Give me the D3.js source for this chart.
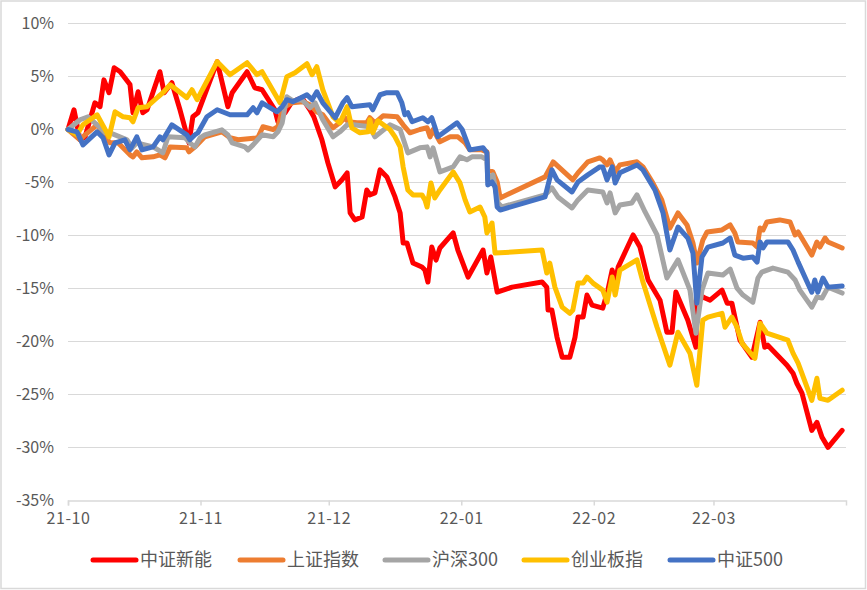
<!DOCTYPE html>
<html>
<head>
<meta charset="utf-8">
<script src="https://cdn.jsdelivr.net/npm/d3@7"></script>
<style>
  html, body { margin: 0; padding: 0; background: #fff; }
  svg { display: block; }
  text { font-family: "Noto Sans CJK SC", "Liberation Sans", sans-serif; fill: #595959; }
</style>
</head>
<body>
<svg id="chart" width="867" height="590"></svg>
<script>
// ---- data: [days since start, % change] ----
const startDate = "2021-10-01";
const endDate = "2022-04-01";
const seriesNames = ["中证新能", "上证指数", "沪深300", "创业板指", "中证500"];
const seriesColors = ["#FF0000", "#ED7D31", "#A5A5A5", "#FFC000", "#4472C4"];
const yTicks = [10, 5, 0, -5, -10, -15, -20, -25, -30, -35];
const monthTicks = ["2021-10-01", "2021-11-01", "2021-12-01", "2022-01-01", "2022-02-01", "2022-03-01"];

const csiNewEnergy = [[0,0],[1.4,1.86],[2.8,-0.97],[4,-0.69],[6.3,2.52],[7.5,2.15],[8.4,4.68],[9.6,3.47],[10.8,5.83],[12.2,5.45],[14.5,4.24],[15.2,1.58],[16.4,3.56],[17.5,1.58],[18.5,1.86],[21.5,5.45],[22.5,3.47],[24.3,4.41],[26.2,1.86],[28.3,-1.26],[29.2,1.2],[30.4,1.58],[34.9,6.4],[37.4,2.15],[38.4,3.47],[41.9,5.45],[43.7,3.94],[45.4,3.75],[48.4,1.86],[49.1,0.73],[49.8,1.2],[50.8,1.58],[52.4,2.62],[54.7,3.0],[56.6,1.86],[57.5,1.2],[59.4,-0.97],[60.8,-3.15],[62.5,-5.41],[64.1,-4.75],[65.3,-4.09],[66,-7.87],[67.1,-8.53],[68.8,-8.25],[69.9,-5.7],[70.6,-6.17],[71.8,-5.98],[73,-3.81],[74.6,-4.47],[76.5,-6.36],[77.7,-7.87],[78.4,-10.71],[79.3,-10.71],[80.7,-12.6],[82.8,-12.98],[83.5,-13.26],[84.2,-14.39],[85.1,-11.09],[86.1,-12.32],[87,-11.18],[90.1,-9.76],[91.2,-11.37],[93.6,-13.92],[97.1,-11.37],[98,-13.54],[98.9,-12.03],[100.4,-15.34],[103.9,-14.87],[110.9,-14.39],[112,-14.87],[112.3,-17.04],[113.2,-17.04],[114.4,-19.6],[115.6,-21.48],[117.4,-21.48],[118.6,-19.6],[119.3,-17.7],[120.5,-17.7],[121.4,-15.62],[122.6,-16.57],[125.1,-16.85],[126.3,-15.15],[127.3,-13.26],[128,-14.49],[128.7,-12.98],[132.2,-9.95],[133.8,-11.09],[135.7,-14.2],[138.5,-16.1],[140.1,-19.12],[141.3,-19.12],[142.2,-15.34],[145,-17.99],[146.9,-20.54],[147.1,-15.43],[149,-15.9],[150.2,-16.1],[153,-15.15],[154.2,-16.38],[155.3,-16.38],[156,-17.7],[157.2,-19.88],[160,-21.48],[161.9,-18.18],[163,-20.54],[163.7,-20.35],[168.2,-22.24],[169.6,-22.99],[170.5,-23.94],[171.7,-24.88],[174,-28.38],[175.2,-27.63],[176.4,-29.04],[177.8,-29.99],[181.1,-28.38]];

const sseComposite = [[0,0],[2.8,-0.97],[4,-0.5],[6.8,0.44],[9.8,-1.26],[11.7,-1.26],[14.5,-2.39],[15.2,-2.58],[16.1,-2.11],[17.3,-2.67],[19.9,-2.58],[21.5,-2.39],[22.7,-2.67],[23.9,-1.64],[27.8,-1.73],[28.3,-2.11],[29.7,-1.64],[32,-0.69],[36,-0.22],[37.9,-0.78],[39.8,-0.97],[44.4,-0.78],[45.6,0.26],[48,0],[49.1,0.26],[50.3,2.05],[52.4,2.52],[55,2.62],[56.6,2.33],[58.2,1.67],[59.6,1.39],[60.8,0.73],[62,0.16],[63.6,0.63],[64.8,1.11],[65.5,0.73],[67.6,0.63],[69.9,0.63],[70.6,1.11],[71.8,0.63],[73.7,1.29],[77,1.2],[78.4,0.44],[80,-0.31],[82.3,0],[84,0.16],[84.7,-0.69],[85.4,0],[87,-1.16],[89.4,-0.69],[91.2,-0.69],[92.9,-1.26],[94,-1.92],[96.8,-1.92],[98,-2.11],[98.2,-3.81],[99.4,-4.0],[100.4,-4.95],[101.1,-6.46],[111.6,-4.47],[113.5,-3.05],[116.3,-4.09],[118.1,-4.75],[119.3,-4.09],[121.6,-3.05],[124.4,-2.68],[125.1,-2.86],[126.1,-3.34],[126.8,-2.86],[128,-3.99],[129.1,-3.34],[133.1,-3.05],[134.5,-3.53],[136.8,-5.04],[138.9,-6.64],[140.8,-9.3],[142.7,-7.87],[144.8,-9.0],[146.2,-10.71],[147.1,-12.6],[148.5,-10.43],[149.5,-9.67],[153,-9.48],[154.9,-9.0],[156,-9.76],[156.7,-10.61],[160.2,-10.71],[161.2,-11.09],[161.9,-9.29],[162.6,-9.48],[163.5,-8.72],[166.5,-8.53],[168.9,-8.72],[170.1,-9.95],[170.8,-9.67],[172.9,-11.09],[174,-11.85],[175.2,-10.61],[175.9,-11.09],[177.1,-10.24],[177.8,-10.61],[181.1,-11.18]];

const csi300 = [[0,0],[2.8,0.92],[4.7,1.2],[6.8,0.44],[8.7,-0.31],[9.8,-0.31],[11,-0.5],[13.8,-0.97],[15,-1.73],[16.1,-1.26],[19.9,-1.64],[22.2,-2.2],[23.4,-0.69],[27.4,-0.78],[28.5,-1.26],[29.7,-1.64],[30.9,-0.78],[32,-0.5],[36,-0.03],[37.4,-0.5],[38.4,-1.26],[41.4,-1.64],[42.1,-1.92],[43.3,-1.45],[45.4,-0.5],[48,-0.69],[49.1,-0.22],[50.1,0.63],[51.2,3.09],[52.6,2.71],[54.7,2.81],[56.6,2.05],[57.8,2.52],[59.6,0.92],[62,-0.69],[63.6,-0.22],[65.3,0.44],[66.7,0.44],[70.6,0.26],[71.8,-0.69],[75.3,0.44],[77.7,0],[79.5,-2.2],[82.3,-1.73],[84,-1.64],[84.7,-2.58],[85.4,-1.73],[87,-4.0],[90.1,-3.53],[91.7,-2.58],[93.3,-2.86],[94.5,-2.58],[96.8,-2.58],[98,-2.86],[98.2,-4.75],[99.4,-4.28],[100.6,-6.93],[101.5,-7.31],[111.6,-6.17],[113.2,-5.51],[114.6,-6.36],[117.9,-7.4],[119.3,-6.64],[121.6,-5.7],[125.1,-5.89],[126.1,-6.93],[126.8,-5.98],[128,-7.87],[129.1,-7.12],[131.9,-6.93],[133.1,-6.17],[135,-7.78],[137.8,-9.95],[140.1,-14.01],[142.7,-12.3],[145.5,-15.15],[146.9,-19.22],[148.3,-15.15],[149.7,-13.54],[153.2,-13.73],[154.9,-13.17],[156.5,-14.96],[157.9,-15.62],[160.2,-16.29],[161.4,-14.01],[162.3,-13.45],[164.9,-13.07],[168.4,-13.45],[170.1,-14.2],[171.2,-15.15],[174,-16.76],[175.2,-15.81],[176.4,-15.9],[177.8,-14.87],[181.1,-15.43]];

const chiNext = [[0,0],[2.1,-0.5],[3.5,0.44],[6.8,1.39],[9.6,-0.69],[11,1.67],[12.9,1.2],[14.5,1.11],[15.2,0.73],[16.4,2.05],[18.5,2.15],[21.1,3.09],[22.2,3.47],[23.9,4.22],[27.8,3.0],[29,3.75],[30.2,2.81],[34.9,6.4],[37.9,5.17],[41.9,6.3],[44.2,5.17],[45.4,5.45],[49.6,2.52],[51.2,4.98],[53.1,5.36],[55.9,6.21],[57.1,5.17],[58.2,5.93],[59.6,3.75],[62,1.2],[63.6,0.63],[65.3,2.15],[66.4,0.16],[68.3,-0.31],[70.2,-0.22],[70.6,0.92],[71.3,-0.31],[72.5,0.82],[75.3,0],[76.5,-0.69],[77.7,-1.64],[78.4,-3.53],[79.5,-5.7],[80.7,-6.17],[82.8,-6.17],[83.5,-6.64],[84,-7.31],[84.9,-5.04],[85.8,-6.46],[87,-5.7],[90.1,-4.0],[91.7,-5.04],[92.9,-6.64],[94,-7.78],[96.4,-7.31],[97.5,-8.25],[98,-9.76],[99.2,-8.82],[99.9,-11.66],[103.9,-11.56],[110.9,-11.37],[112,-13.54],[112.7,-12.6],[113.9,-14.87],[115.6,-16.76],[117.4,-17.34],[118.1,-17.04],[119.3,-14.49],[120.5,-14.49],[121.4,-13.92],[122.8,-14.49],[125.1,-15.15],[126.1,-16.29],[127.3,-13.92],[128,-15.62],[129.1,-13.26],[133.1,-12.3],[134.5,-14.39],[137.8,-18.65],[140.8,-22.24],[142.7,-19.12],[145.5,-21.1],[147.1,-24.13],[148.5,-17.99],[149.7,-17.7],[153,-17.34],[153.7,-18.65],[155.3,-17.7],[156.5,-18.65],[157.7,-20.17],[160.7,-21.58],[161.9,-18.27],[163.5,-19.22],[168.4,-19.88],[169.6,-21.1],[170.8,-22.05],[172.9,-24.32],[174,-25.55],[175.2,-23.47],[175.9,-25.36],[177.8,-25.55],[181.1,-24.6]];

const csi500 = [[0,0],[2.1,-0.22],[3.5,-1.45],[6.8,-0.22],[8.2,-0.78],[9.6,-2.39],[11,-1.26],[13.3,-0.97],[14.5,-1.92],[16.1,-0.69],[17.3,-1.92],[19.9,-1.64],[21.5,-0.69],[22.2,-0.97],[24.3,0.44],[27.8,-0.5],[28.5,-0.97],[29.7,-0.5],[30.4,-0.31],[32.5,1.2],[34.9,1.86],[37.9,1.39],[41.9,1.39],[43.3,2.05],[44.2,1.58],[45.4,2.52],[48.9,1.67],[50.1,2.15],[51.2,2.81],[52.6,2.62],[55.9,3.28],[57.1,2.81],[58.2,3.56],[59.6,2.52],[62.5,1.11],[64.3,2.52],[65.3,3.0],[66.4,2.15],[70.6,2.33],[71.3,1.86],[73,3.28],[74.6,3.47],[77,3.47],[78.1,2.52],[78.8,1.39],[79.5,1.58],[80.5,0.73],[83,1.11],[84.2,0.73],[85.1,1.11],[85.8,0.26],[86.5,-0.69],[91,0.63],[92.2,0],[94,-1.92],[97.1,-1.73],[98,-2.2],[98.2,-5.24],[99.2,-4.95],[99.9,-5.41],[100.4,-7.31],[101.1,-7.6],[111.6,-6.36],[113.2,-3.81],[114.4,-4.75],[117.9,-5.89],[119.3,-4.95],[121.6,-4.28],[124.4,-3.53],[125.1,-3.53],[126.1,-4.75],[127.3,-3.53],[128,-5.04],[129.1,-4.09],[133.1,-3.34],[134.5,-3.81],[137.3,-5.7],[139.2,-7.87],[140.8,-11.37],[142.7,-9.2],[145,-10.24],[146.2,-11.66],[147.1,-16.38],[148.3,-12.03],[149.7,-11.09],[153.2,-10.71],[154.9,-10.24],[156,-11.85],[157.9,-12.14],[160.2,-12.03],[161.2,-12.51],[161.9,-10.61],[162.6,-11.18],[163.5,-10.61],[168.4,-10.61],[169.6,-11.37],[170.8,-12.51],[174,-15.35],[174.7,-14.2],[175.4,-15.35],[176.6,-14.01],[177.8,-14.87],[181.1,-14.77]];

const seriesValues = [csiNewEnergy, sseComposite, csi300, chiNext, csi500];

// ---- drawing ----
const svg = d3.select("#chart");
const W = 867, H = 590;
const margin = { left: 68, right: 21, top: 23.5, bottom: 89.5 };

svg.append("rect").attr("x", 1).attr("y", 1).attr("width", W - 2.5).attr("height", H - 2.5)
  .attr("fill", "#fff").attr("stroke", "#D9D9D9").attr("stroke-width", 1.5);

const t0 = new Date(startDate + "T00:00:00Z");
const toDate = d => new Date(t0.getTime() + d * 86400000);

const x = d3.scaleUtc()
  .domain([t0, new Date(endDate + "T00:00:00Z")])
  .range([margin.left, W - margin.right]);
const y = d3.scaleLinear()
  .domain([d3.min(yTicks), d3.max(yTicks)])
  .range([H - margin.bottom, margin.top]);

// gridlines
svg.append("g").selectAll("line").data(yTicks.filter(v => v !== d3.min(yTicks))).join("line")
  .attr("x1", margin.left).attr("x2", W - margin.right)
  .attr("y1", d => y(d)).attr("y2", d => y(d))
  .attr("stroke", "#D9D9D9").attr("stroke-width", 1);

// y axis labels
const yAxis = d3.axisLeft(y).tickValues(yTicks).tickSize(0).tickPadding(14)
  .tickFormat(d => d + "%");
const gy = svg.append("g").attr("transform", `translate(${margin.left},0)`).call(yAxis);
gy.select(".domain").remove();
gy.selectAll("text").attr("font-size", 16).attr("fill", "#595959")
  .style("font-family", "'Noto Sans CJK SC', sans-serif");

// x axis
const xAxis = d3.axisBottom(x)
  .tickValues(monthTicks.map(s => new Date(s + "T00:00:00Z")))
  .tickFormat(d3.utcFormat("%y-%m"))
  .tickSize(5).tickSizeOuter(5).tickPadding(7);
const gx = svg.append("g").attr("transform", `translate(0,${y(d3.min(yTicks))})`).call(xAxis);
gx.select(".domain").attr("stroke", "#D9D9D9").attr("stroke-width", 1.5);
gx.selectAll(".tick line").attr("stroke", "#D9D9D9").attr("stroke-width", 1.5);
gx.selectAll("text").attr("font-size", 16).attr("fill", "#595959")
  .attr("letter-spacing", 0.6)
  .style("font-family", "'Noto Sans CJK SC', sans-serif");

// lines
const line = d3.line().x(d => x(toDate(d[0]))).y(d => y(d[1]));
svg.append("g").selectAll("path").data(seriesValues).join("path")
  .attr("d", d => line(d))
  .attr("fill", "none")
  .attr("stroke", (d, i) => seriesColors[i])
  .attr("stroke-width", 5)
  .attr("stroke-linejoin", "round")
  .attr("stroke-linecap", "round");

// legend
const legendX = [93, 240, 385, 524, 670];
const lg = svg.append("g").selectAll("g").data(seriesNames).join("g")
  .attr("transform", (d, i) => `translate(${legendX[i]},560)`);
lg.append("line").attr("x1", 0).attr("x2", 43).attr("y1", 0).attr("y2", 0)
  .attr("stroke", (d, i) => seriesColors[i]).attr("stroke-width", 5).attr("stroke-linecap", "round");
lg.append("text").attr("x", 47).attr("y", 0).attr("dy", "0.35em")
  .attr("font-size", 18).text(d => d);
</script>
</body>
</html>
